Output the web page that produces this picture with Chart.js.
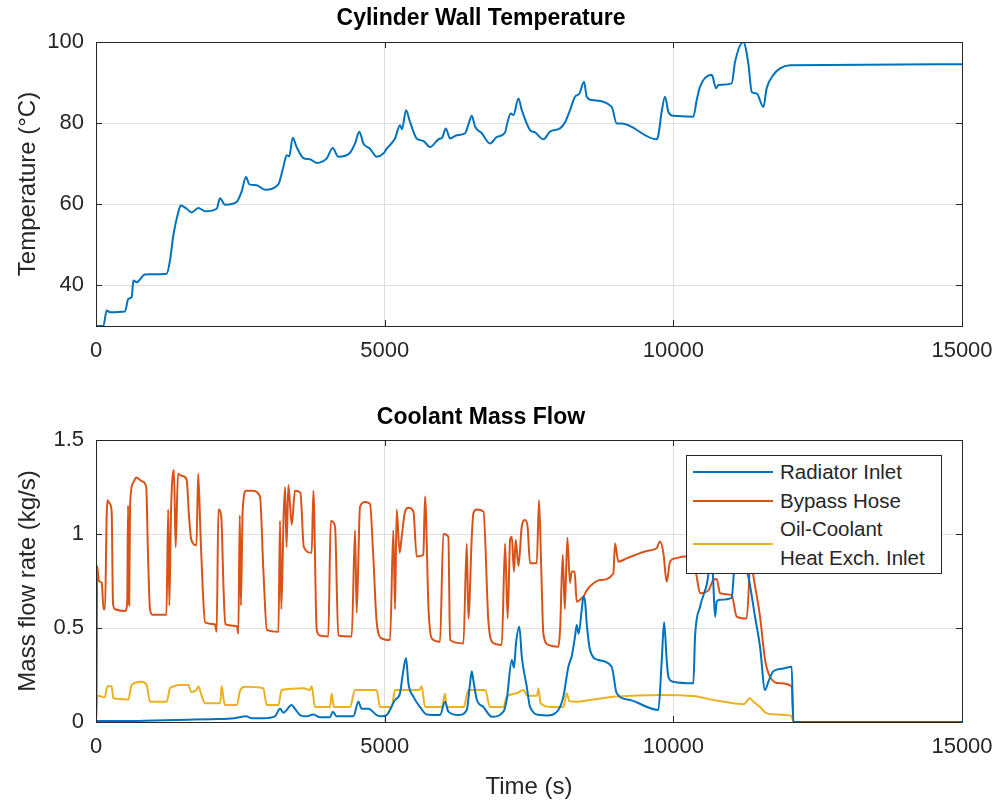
<!DOCTYPE html>
<html>
<head>
<meta charset="utf-8">
<title>Cylinder Wall Temperature / Coolant Mass Flow</title>
<script src="https://cdn.jsdelivr.net/npm/chart.js@4.4.1/dist/chart.umd.min.js"></script>
<style>
  body { margin: 0; background: #fff; }
  #wrap { position: relative; width: 1000px; height: 802px; overflow: hidden; }
  #tempChart { position: absolute; left: 0; top: 0; }
  #flowChart { position: absolute; left: 0; top: 390px; }
  #legend {
    position: absolute; left: 686px; top: 455px; width: 256px; height: 119px;
    border: 1px solid #262626; background: #fff; box-sizing: border-box;
    padding-top: 2px; font-family: "Liberation Sans", Arial, sans-serif; font-size: 20.5px; color: #262626;
  }
  .row { display: flex; align-items: center; }
  .swatch { width: 80px; height: 2px; margin-left: 6px; margin-right: 7px; flex: none; }
  .txt { line-height: 28.5px; white-space: pre-line; }
</style>
</head>
<body>
<div id="wrap">
  <canvas id="tempChart" width="1000" height="390"></canvas>
  <canvas id="flowChart" width="1000" height="412"></canvas>
  <div id="legend"></div>
</div>
<script>
// ticks
const xTicks = [0, 5000, 10000, 15000];
const tempTicks = [40, 60, 80, 100];
const flowTicks = [0, 0.5, 1, 1.5];

// [time (s), temperature (degC)]
const wallTemp = [
  [0, 30], [127, 30], [185, 33.8], [242, 33.4], [502, 33.6], [560, 36.7], [618, 37.1],
  [647, 41.2], [704, 40.8], [849, 42.7], [1224, 42.9], [1282, 46.2], [1339, 52.3],
  [1426, 58.1], [1467, 59.7], [1571, 58.9], [1657, 58], [1772, 59.1], [1888, 58.3],
  [2090, 58.9], [2148, 61.5], [2235, 59.9], [2437, 60.6], [2523, 63.2], [2598, 66.7],
  [2656, 64.9], [2783, 64.7], [2927, 63.6], [3158, 64.9], [3245, 69.2], [3303, 72.1],
  [3347, 71.8], [3407, 76.4], [3476, 74.1], [3592, 71.4], [3707, 71.1], [3823, 70.2],
  [3996, 71.3], [4100, 73.9], [4197, 71.7], [4400, 72.7], [4487, 75], [4561, 77.9],
  [4631, 75], [4746, 73.7], [4862, 71.7], [4977, 72.5], [5035, 73.7], [5179, 76.2],
  [5266, 79.5], [5300, 78.5], [5370, 83.2], [5439, 80.3], [5555, 76.2], [5670, 75.6],
  [5786, 74.1], [5930, 76], [6000, 76.5], [6058, 78.7], [6133, 76.2], [6248, 77],
  [6393, 77.5], [6451, 79.7], [6509, 81.8], [6567, 79.1], [6682, 77.5], [6826, 75],
  [6942, 76.6], [7086, 77.7], [7115, 79.5], [7184, 82.4], [7230, 82], [7317, 86.1],
  [7375, 83.2], [7518, 78.3], [7605, 77.7], [7749, 76], [7864, 77.9], [8037, 78.7],
  [8124, 80.2], [8210, 83.2], [8297, 86.5], [8373, 87.3], [8453, 90.2], [8500, 86.5],
  [8586, 85.7], [8932, 84], [9019, 79.9], [9105, 79.9], [9711, 76], [9740, 77],
  [9798, 82.8], [9856, 86.5], [9914, 82.8], [10001, 81.8], [10347, 81.6], [10405, 85.7],
  [10463, 89], [10665, 91.9], [10740, 88.6], [10780, 89.4], [11011, 89.8], [11069, 95.1],
  [11213, 100], [11299, 94.7], [11358, 87.7], [11444, 87.3], [11560, 84], [11617, 88.6],
  [11733, 91.9], [11848, 93.5], [12021, 94.3], [15000, 94.5]
];

// [time (s), mass flow (kg/s)]
const radiatorInlet = [
  [0, 0], [10, 0.005], [500, 0.005], [1000, 0.008], [1600, 0.012], [2000, 0.015],
  [2400, 0.02], [2600, 0.03], [2700, 0.02], [2900, 0.02], [3100, 0.03], [3187, 0.07],
  [3245, 0.05], [3390, 0.09], [3447, 0.07], [3534, 0.037], [3650, 0.03], [3765, 0.04],
  [3880, 0.025], [4053, 0.025], [4100, 0.055], [4169, 0.03], [4458, 0.03], [4544, 0.108],
  [4602, 0.07], [4720, 0.07], [4862, 0.037], [4948, 0.03], [5035, 0.037], [5179, 0.117],
  [5266, 0.153], [5312, 0.25], [5370, 0.34], [5411, 0.206], [5497, 0.135], [5612, 0.08],
  [5728, 0.04], [5959, 0.037], [6045, 0.108], [6103, 0.055], [6277, 0.037], [6422, 0.064],
  [6479, 0.206], [6509, 0.27], [6537, 0.22], [6595, 0.12], [6711, 0.08], [6855, 0.028],
  [7057, 0.055], [7115, 0.12], [7202, 0.33], [7240, 0.29], [7275, 0.42], [7333, 0.507],
  [7375, 0.347], [7461, 0.188], [7518, 0.08], [7691, 0.037], [7807, 0.035], [8008, 0.064],
  [8095, 0.135], [8182, 0.294], [8240, 0.35], [8297, 0.454], [8326, 0.516], [8360, 0.47],
  [8413, 0.596], [8442, 0.667], [8471, 0.64], [8500, 0.525], [8557, 0.383], [8701, 0.33],
  [8932, 0.294], [9019, 0.153], [9250, 0.117], [9740, 0.064], [9798, 0.32], [9840, 0.53],
  [9885, 0.33], [9914, 0.24], [10001, 0.214], [10347, 0.206], [10376, 0.454], [10463, 0.613],
  [10578, 0.73], [10636, 0.82], [10680, 0.8], [10723, 0.56], [10751, 0.64], [10809, 0.65],
  [11011, 0.66], [11060, 0.82], [11200, 0.85], [11299, 0.773], [11415, 0.56], [11502, 0.4],
  [11589, 0.17], [11646, 0.214], [11733, 0.27], [11906, 0.285], [12050, 0.294], [12079, 0],
  [15000, 0]
];

const bypassHose = [
  [0, 0], [10, 0], [20, 0.83], [50, 0.75], [100, 0.74], [130, 0.6], [156, 0.6], [185, 1.1],
  [200, 1.18], [240, 1.16], [271, 1.12], [295, 0.63], [330, 0.6], [500, 0.59], [540, 0.63],
  [555, 1.15], [575, 0.62], [590, 1.15], [640, 1.27], [700, 1.3], [800, 1.28], [870, 1.25],
  [900, 0.9], [935, 0.6], [980, 0.57], [1220, 0.57], [1250, 1.13], [1270, 0.62], [1300, 1.13],
  [1350, 1.34], [1380, 0.93], [1420, 1.32], [1480, 1.31], [1570, 1.29], [1610, 1.1],
  [1650, 0.97], [1740, 0.94], [1770, 1.32], [1810, 1.0], [1850, 0.7], [1890, 0.53],
  [2060, 0.52], [2090, 0.48], [2120, 1.13], [2170, 1.09], [2210, 0.7], [2240, 0.52],
  [2440, 0.51], [2465, 0.47], [2490, 1.1], [2510, 0.62], [2540, 1.12], [2600, 1.23],
  [2700, 1.23], [2840, 1.2], [2900, 0.8], [2960, 0.49], [3160, 0.48], [3187, 1.07],
  [3210, 0.6], [3250, 1.1], [3275, 1.25], [3300, 0.93], [3332, 1.26], [3390, 1.05],
  [3447, 1.23], [3540, 1.22], [3600, 0.93], [3736, 0.9], [3765, 1.23], [3823, 0.49],
  [3880, 0.46], [4024, 0.455], [4066, 1.07], [4140, 1.04], [4197, 0.46], [4429, 0.455],
  [4487, 1.02], [4515, 0.58], [4573, 1.145], [4660, 1.17], [4746, 1.16], [4800, 0.9],
  [4862, 0.53], [4948, 0.445], [5093, 0.436], [5150, 1.02], [5180, 0.6], [5208, 1.13],
  [5260, 0.9], [5300, 1.0], [5353, 1.12], [5411, 1.14], [5497, 1.12], [5555, 0.88],
  [5670, 0.89], [5699, 1.2], [5760, 0.6], [5815, 0.445], [5959, 0.427], [6016, 1.0],
  [6103, 0.985], [6133, 0.436], [6364, 0.418], [6422, 0.95], [6450, 0.55], [6509, 0.985],
  [6537, 1.11], [6595, 1.13], [6711, 1.12], [6798, 0.53], [6884, 0.42], [7028, 0.41],
  [7086, 0.95], [7130, 0.55], [7173, 0.97], [7202, 0.985], [7240, 0.8], [7270, 0.97],
  [7317, 0.83], [7375, 1.04], [7432, 1.075], [7475, 1.04], [7518, 0.844], [7634, 0.844],
  [7674, 1.18], [7710, 0.84], [7749, 0.47], [7835, 0.41], [8008, 0.4], [8040, 0.5],
  [8084, 0.89], [8120, 0.6], [8164, 0.98], [8210, 0.74], [8240, 0.8], [8290, 0.8],
  [8326, 0.64], [8384, 0.65], [8442, 0.667], [8500, 0.7], [8586, 0.73], [8730, 0.755],
  [8961, 0.79], [8990, 0.95], [9048, 0.853], [9192, 0.87], [9539, 0.91], [9711, 0.924],
  [9769, 0.96], [9827, 0.9], [9885, 0.746], [9943, 0.853], [10030, 0.87], [10200, 0.88],
  [10350, 0.87], [10405, 0.773], [10463, 0.685], [10607, 0.7], [10694, 0.755], [10751, 0.76],
  [10809, 0.685], [11011, 0.675], [11097, 0.56], [11271, 0.55], [11340, 0.86], [11400, 0.75],
  [11502, 0.56], [11589, 0.33], [11675, 0.24], [11848, 0.206], [12050, 0.188], [12079, 0],
  [15000, 0]
];

const oilCoolantInlet = [
  [0, 0], [15, 0.12], [40, 0.14], [150, 0.13], [200, 0.19], [271, 0.19], [300, 0.126],
  [560, 0.12], [618, 0.197], [791, 0.214], [878, 0.197], [935, 0.108], [1224, 0.108],
  [1282, 0.18], [1350, 0.19], [1426, 0.197], [1600, 0.197], [1650, 0.16], [1740, 0.17],
  [1772, 0.19], [1830, 0.14], [1888, 0.1], [2150, 0.1], [2177, 0.19], [2210, 0.12],
  [2235, 0.09], [2437, 0.09], [2500, 0.17], [2581, 0.188], [2898, 0.18], [2956, 0.09],
  [3158, 0.09], [3216, 0.17], [3600, 0.18], [3700, 0.17], [3736, 0.19], [3794, 0.08],
  [4053, 0.08], [4082, 0.15], [4120, 0.08], [4400, 0.08], [4487, 0.17], [4860, 0.17],
  [4920, 0.08], [5120, 0.08], [5180, 0.17], [5600, 0.17], [5640, 0.19], [5700, 0.08],
  [5990, 0.08], [6045, 0.15], [6075, 0.08], [6370, 0.08], [6450, 0.17], [6740, 0.17],
  [6826, 0.08], [7057, 0.08], [7115, 0.135], [7288, 0.153], [7404, 0.17], [7470, 0.14],
  [7640, 0.14], [7663, 0.18], [7700, 0.1], [7864, 0.08], [8095, 0.08], [8153, 0.153],
  [8200, 0.11], [8326, 0.108], [8557, 0.117], [9019, 0.135], [9769, 0.144], [10347, 0.138],
  [10694, 0.117], [11040, 0.1], [11213, 0.094], [11329, 0.126], [11380, 0.11], [11502, 0.08],
  [11617, 0.046], [11790, 0.04], [12050, 0.032], [12079, 0], [15000, 0]
];

const legendLabels = ["Radiator Inlet", "Bypass Hose", "Oil-Coolant\nHeat Exch. Inlet"];

const BLUE = "#0072BD";
const ORANGE = "#D95319";
const YELLOW = "#EDB120";
const TEXT = "#262626";
const GRID = "#dfdfdf";
const FONT = "'Liberation Sans', Arial, Helvetica, sans-serif";

const toPoints = (pairs) => pairs.map(([x, y]) => ({ x, y }));

// matlab-ish box with inward tick marks
const boxPlugin = {
  id: "matlabBox",
  afterDatasetsDraw(chart) {
    const { ctx, chartArea: a, scales } = chart;
    const len = 6;
    ctx.save();
    ctx.strokeStyle = TEXT;
    ctx.lineWidth = 1;
    ctx.beginPath();
    scales.x.ticks.forEach((t) => {
      const px = Math.round(scales.x.getPixelForValue(t.value)) + 0.5;
      ctx.moveTo(px, a.bottom); ctx.lineTo(px, a.bottom - len);
      ctx.moveTo(px, a.top); ctx.lineTo(px, a.top + len);
    });
    scales.y.ticks.forEach((t) => {
      const py = Math.round(scales.y.getPixelForValue(t.value)) + 0.5;
      ctx.moveTo(a.left, py); ctx.lineTo(a.left + len, py);
      ctx.moveTo(a.right, py); ctx.lineTo(a.right - len, py);
    });
    ctx.stroke();
    ctx.strokeRect(Math.round(a.left) + 0.5, Math.round(a.top) + 0.5,
      Math.round(a.right - a.left), Math.round(a.bottom - a.top));
    ctx.restore();
  },
};

function xAxis(height, titleText) {
  return {
    type: "linear",
    min: 0,
    max: 15000,
    afterBuildTicks: (s) => { s.ticks = xTicks.map((v) => ({ value: v })); },
    afterFit: (s) => { s.height = height; s.paddingLeft = 0; s.paddingRight = 0; },
    grid: { color: GRID, drawTicks: false },
    border: { display: false },
    ticks: { color: TEXT, font: { family: FONT, size: 22 }, padding: 12, maxRotation: 0, autoSkip: false, callback: (v) => String(v) },
    title: { display: !!titleText, text: titleText || "", color: TEXT, font: { family: FONT, size: 24 }, padding: { top: 0, bottom: 0 } },
  };
}

function yAxis(min, max, ticks, titleText) {
  return {
    min, max,
    afterBuildTicks: (s) => { s.ticks = ticks.map((v) => ({ value: v })); },
    afterFit: (s) => { s.width = 96; s.paddingTop = 0; s.paddingBottom = 0; },
    grid: { color: GRID, drawTicks: false },
    border: { display: false },
    ticks: { color: TEXT, font: { family: FONT, size: 22 }, padding: 12, callback: (v) => String(v) },
    title: { display: true, text: titleText, color: TEXT, font: { family: FONT, size: 24 }, padding: { top: 14, bottom: 0 } },
  };
}

function lineSet(label, pairs, color) {
  return {
    label, data: toPoints(pairs), borderColor: color, borderWidth: 2, pointRadius: 0,
    cubicInterpolationMode: "monotone", fill: false,
  };
}

function buildTempChart() {
  new Chart(document.getElementById("tempChart"), {
    type: "line",
    data: { datasets: [lineSet("Wall Temperature", wallTemp, BLUE)] },
    options: {
      responsive: false,
      animation: false,
      layout: { padding: { left: 0, right: 38, top: 0, bottom: 0 } },
      plugins: {
        legend: { display: false },
        tooltip: { enabled: false },
        title: { display: true, text: "Cylinder Wall Temperature", color: "#000", font: { family: FONT, size: 23, weight: "bold" }, padding: { top: 5, bottom: 9.4 } },
      },
      scales: {
        x: xAxis(64, null),
        y: yAxis(30, 100, tempTicks, "Temperature (°C)"),
      },
    },
    plugins: [boxPlugin],
  });
}

function buildFlowChart() {
  new Chart(document.getElementById("flowChart"), {
    type: "line",
    data: {
      datasets: [
        lineSet(legendLabels[0], radiatorInlet, BLUE),
        lineSet(legendLabels[1], bypassHose, ORANGE),
        lineSet(legendLabels[2], oilCoolantInlet, YELLOW),
      ],
    },
    options: {
      responsive: false,
      animation: false,
      layout: { padding: { left: 0, right: 38, top: 0, bottom: 0 } },
      plugins: {
        legend: { display: false },
        tooltip: { enabled: false },
        title: { display: true, text: "Coolant Mass Flow", color: "#000", font: { family: FONT, size: 23, weight: "bold" }, padding: { top: 14.2, bottom: 8.2 } },
      },
      scales: {
        x: xAxis(80, "Time (s)"),
        y: yAxis(0, 1.5, flowTicks, "Mass flow rate (kg/s)"),
      },
    },
    plugins: [boxPlugin],
  });
}

function buildLegend() {
  const box = document.getElementById("legend");
  const colors = [BLUE, ORANGE, YELLOW];
  legendLabels.forEach((label, i) => {
    const row = document.createElement("div");
    row.className = "row";
    const sw = document.createElement("span");
    sw.className = "swatch";
    sw.style.background = colors[i];
    const txt = document.createElement("span");
    txt.className = "txt";
    txt.textContent = label;
    row.appendChild(sw);
    row.appendChild(txt);
    box.appendChild(row);
  });
}

buildTempChart();
buildFlowChart();
buildLegend();
</script>
</body>
</html>
